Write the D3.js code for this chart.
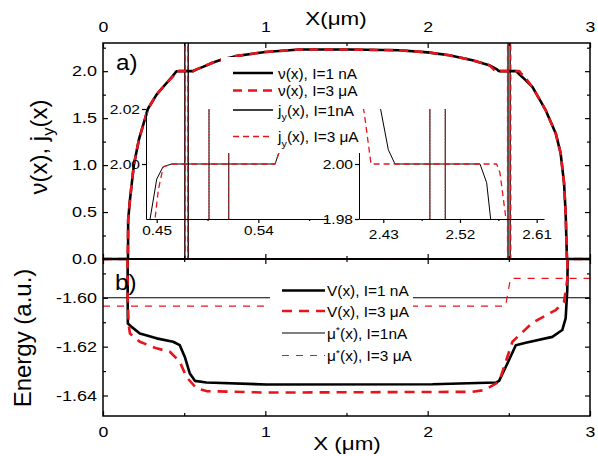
<!DOCTYPE html>
<html>
<head>
<meta charset="utf-8">
<title>nu(x), j_y(x) and energy profiles</title>
<script src="https://cdn.jsdelivr.net/npm/d3@7/dist/d3.min.js"></script>
<style>
    body { margin: 0; background: #fff; }
    svg text { font-family: "Liberation Sans", Arial, sans-serif; fill: #000; }
    .we, .wm, .ws { transform-box: fill-box; }
    .we { transform-origin: 100% 50%; transform: scaleX(1.2); }
    .wm { transform-origin: 50% 50%; transform: scaleX(1.18); }
    .ws { transform-origin: 0% 50%; transform: scaleX(1.1); }
</style>
</head>
<body>
<svg id="chart" width="598" height="456"></svg>
<script>
var xTicks = [0, 1, 2, 3];
var xMinor = [0.5, 1.5, 2.5];
var nuTicks = [0, 0.5, 1, 1.5, 2];
var nuMinor = [0.25, 0.75, 1.25, 1.75, 2.25];
var energyTicks = [-1.64, -1.62, -1.60];
var energyMinor = [-1.63, -1.61, -1.59];
var zoomYTicksLeft = [2.00, 2.02];
var zoomYTicksRight = [1.98, 2.00];
var zoomXTicksLeft = [0.45, 0.54];
var zoomXMinorLeft = [0.495, 0.585];
var zoomXTicksRight = [2.43, 2.52, 2.61];
var zoomXMinorRight = [2.475, 2.565];

// nu(x), I = 1 nA
var nu1X = [0, 0.154, 0.155, 0.166, 0.19, 0.221, 0.26, 0.277, 0.33, 0.355, 0.40, 0.43, 0.4441, 0.45, 0.4556,
    0.4633, 0.5548, 0.559, 0.58, 0.616, 0.678, 0.719, 0.817, 1.0, 1.21, 1.518, 1.825, 2.0, 2.133, 2.276,
    2.379, 2.427, 2.4359, 2.4437, 2.5435, 2.5513, 2.556, 2.60, 2.645, 2.727, 2.789, 2.819, 2.84, 2.85, 2.858, 3];
var nu1Y = [0, 0, 0.415, 0.63, 1.0, 1.27, 1.5, 1.6, 1.75, 1.8, 1.89, 1.95, 1.98, 1.9945, 1.999,
    2.0, 2.0, 2.005, 2.022, 2.046, 2.093, 2.117, 2.16, 2.205, 2.23, 2.23, 2.223, 2.2, 2.17, 2.117,
    2.064, 2.0197, 2.0052, 2.0, 2.0, 1.9932, 1.98, 1.91, 1.833, 1.585, 1.337, 1.128, 0.81, 0.49, 0, 0];

// nu(x), I = 3 uA
var nu3X = [0, 0.152, 0.155, 0.166, 0.19, 0.221, 0.26, 0.277, 0.33, 0.355, 0.40, 0.435, 0.4485, 0.4514, 0.4558,
    0.4633, 0.5548, 0.559, 0.58, 0.616, 0.678, 0.719, 0.817, 1.0, 1.21, 1.518, 1.825, 2.0, 2.133, 2.276,
    2.379, 2.4077, 2.4156, 2.563, 2.5669, 2.574, 2.61, 2.645, 2.727, 2.789, 2.819, 2.84, 2.85, 2.858, 3];
var nu3Y = [0, 0, 0.415, 0.63, 1.0, 1.27, 1.5, 1.6, 1.75, 1.8, 1.89, 1.95, 1.98, 1.9906, 1.999,
    2.0, 2.0, 2.005, 2.022, 2.046, 2.093, 2.117, 2.16, 2.205, 2.23, 2.23, 2.223, 2.2, 2.17, 2.117,
    2.064, 2.0185, 2.0, 2.0, 1.9968, 1.98, 1.91, 1.833, 1.585, 1.337, 1.128, 0.81, 0.49, 0, 0];

// j_y(x): zero except two narrow spikes that run off the scale
var jy1X = [0, 0.504, 0.504, 0.525, 0.525, 2.495, 2.495, 2.508, 2.508, 3];
var jy1Y = [0, 0, 2.6, 2.6, 0, 0, 2.6, 2.6, 0, 0];
var jy3X = [0, 0.507, 0.507, 0.522, 0.522, 2.492, 2.492, 2.512, 2.512, 3];
var jy3Y = [0, 0, 2.6, 2.6, 0, 0, 2.6, 2.6, 0, 0];

// spikes as they appear in the two zoomed insets
var jyZoomLeftX = [0.44, 0.4963, 0.4963, 0.5138, 0.5138, 0.61];
var jyZoomRightX = [2.40, 2.4847, 2.4847, 2.5027, 2.5027, 2.62];
var jyZoomY = [0, 0, 2.6, 2.6, 0, 0];

// V(x)
var v1X = [0.152, 0.152, 0.153, 0.176, 0.227, 0.33, 0.432, 0.473, 0.504, 0.535, 0.566, 0.637, 1.006, 2.03,
    2.42, 2.44, 2.491, 2.543, 2.604, 2.768, 2.829, 2.85, 2.86, 2.866];
var v1Y = [-1.57, -1.60, -1.6105, -1.6119, -1.6146, -1.6166, -1.618, -1.6194, -1.6242, -1.631, -1.634, -1.6347, -1.6355, -1.6354,
    -1.6347, -1.634, -1.6269, -1.6194, -1.6184, -1.616, -1.6132, -1.6084, -1.5968, -1.57];
var v3X = [0.150, 0.152, 0.158, 0.166, 0.227, 0.33, 0.412, 0.473, 0.514, 0.576, 0.637, 1.006, 2.276, 2.348,
    2.44, 2.522, 2.645, 2.789, 2.84, 2.86, 2.864];
var v3Y = [-1.57, -1.60, -1.611, -1.6146, -1.618, -1.6207, -1.6221, -1.6262, -1.6324, -1.6371, -1.6382, -1.6388, -1.6385, -1.6378,
    -1.6344, -1.618, -1.6102, -1.605, -1.6016, -1.5927, -1.57];

// mu*(x)
var mu1X = [0, 3];
var mu1Y = [-1.60, -1.60];
var mu3X = [0, 2.48, 2.51, 3];
var mu3Y = [-1.6034, -1.6034, -1.592, -1.592];

var legendTopLabels = ['ν(x), I=1 nA', 'ν(x), I=3 μA', 'j_y(x), I=1nA', 'j_y(x), I=3 μA'];
var legendBottomLabels = ['V(x), I=1 nA', 'V(x), I=3 μA', 'μ^*(x), I=1nA', 'μ^*(x), I=3 μA'];

document.addEventListener('DOMContentLoaded', main);

function main() {
    var svg = d3.select('#chart');

    var x = d3.scaleLinear().domain([0, 3]).range([103, 590]);
    var yNu = d3.scaleLinear().domain([0, 2.3]).range([259, 43]);
    var yEn = d3.scaleLinear().domain([-1.6484, -1.5841]).range([416, 259]);
    var xZl = d3.scaleLinear().domain([0.4405, 0.6017]).range([146, 328]);
    var xZr = d3.scaleLinear().domain([2.4015, 2.6186]).range([359, 544]);
    var yZ = d3.scaleLinear().domain([1.98, 2.02]).range([219, 109]);

    var defs = svg.append('defs');
    clipRect(defs, 'clipNu', 103, 43, 487, 220);
    clipRect(defs, 'clipEn', 103, 259, 487, 157);
    clipRect(defs, 'clipZl', 146, 109, 182, 110);
    clipRect(defs, 'clipZr', 359, 109, 185, 110);

    var red = '#e8141c';
    var st = {
        nu1: { color: '#000', width: 2.6 },
        nu3: { color: red, width: 2.6, dash: '9,6' },
        jy1: { color: '#000', width: 1.3 },
        jy3: { color: red, width: 1.3, dash: '6,4' },
        v1: { color: '#000', width: 2.6 },
        v3: { color: red, width: 2.6, dash: '10,7' },
        mu1: { color: '#000', width: 1.1 },
        mu3: { color: red, width: 1.2, dash: '7,7' },
        zoom1: { color: '#000', width: 1 },
        zoom3: { color: red, width: 1.3, dash: '6,4' },
        spike3: { color: red, width: 1, dash: '1.5,1.5' }
    };

    var upper = svg.append('g').attr('clip-path', 'url(#clipNu)');
    series(upper, jy1X, jy1Y, x, yNu, st.jy1);
    series(upper, jy3X, jy3Y, x, yNu, st.jy3);
    series(upper, nu1X, nu1Y, x, yNu, st.nu1);
    series(upper, nu3X, nu3Y, x, yNu, st.nu3);

    var lower = svg.append('g').attr('clip-path', 'url(#clipEn)');
    series(lower, mu1X, mu1Y, x, yEn, st.mu1);
    series(lower, mu3X, mu3Y, x, yEn, st.mu3);
    series(lower, v1X, v1Y, x, yEn, st.v1);
    series(lower, v3X, v3Y, x, yEn, st.v3);

    // insets: same nu data, zoomed around the 2.0 plateau
    var zl = svg.append('g').attr('clip-path', 'url(#clipZl)');
    series(zl, jyZoomLeftX, jyZoomY, xZl, yZ, st.zoom1);
    series(zl, jyZoomLeftX, jyZoomY, xZl, yZ, st.spike3);
    series(zl, nu1X, nu1Y, xZl, yZ, st.zoom1);
    series(zl, nu3X, nu3Y, xZl, yZ, st.zoom3);

    var zr = svg.append('g').attr('clip-path', 'url(#clipZr)');
    series(zr, jyZoomRightX, jyZoomY, xZr, yZ, st.zoom1);
    series(zr, jyZoomRightX, jyZoomY, xZr, yZ, st.spike3);
    series(zr, nu1X, nu1Y, xZr, yZ, st.zoom1);
    series(zr, nu3X, nu3Y, xZr, yZ, st.zoom3);

    insetAxes(svg, xZl, yZ, zoomXTicksLeft, zoomXMinorLeft, zoomYTicksLeft, 146, 219, 3);
    insetAxes(svg, xZr, yZ, zoomXTicksRight, zoomXMinorRight, zoomYTicksRight, 359, 219, 7);

    legend(svg, [221, 57, 140, 96], legendTopLabels, [st.nu1, st.nu3, st.jy1, st.jy3],
        233, 273, 278, [79, 96.5, 116, 142.5]);
    legend(svg, [270, 279, 143, 88], legendBottomLabels, [st.v1, st.v3, st.mu1, st.mu3],
        282, 325, 327, [296.5, 317, 339, 361.5]);

    panelAxes(svg, x, yNu, nuTicks, nuMinor, function (d) { return d.toFixed(1); }, true, false);
    panelAxes(svg, x, yEn, energyTicks, energyMinor, function (d) { return d.toFixed(2); }, false, true);

    svg.append('text').attr('class', 'wm').attr('x', 336).attr('y', 25)
        .attr('text-anchor', 'middle').attr('font-size', 19).text('X(μm)');
    svg.append('text').attr('class', 'wm').attr('x', 347).attr('y', 450)
        .attr('text-anchor', 'middle').attr('font-size', 19).text('X (μm)');

    var t1 = svg.append('text').attr('transform', 'translate(40,147) rotate(-90)')
        .attr('y', 7).attr('text-anchor', 'middle').attr('font-size', 24);
    richText(t1, 'ν(x), j_y(x)', 24);
    svg.append('text').attr('transform', 'translate(24,338) rotate(-90)')
        .attr('y', 7).attr('text-anchor', 'middle').attr('font-size', 24).text('Energy (a.u.)');

    svg.append('text').attr('class', 'ws').attr('x', 116).attr('y', 70).attr('font-size', 22).text('a)');
    svg.append('text').attr('class', 'ws').attr('x', 115).attr('y', 290).attr('font-size', 22).text('b)');
}

function clipRect(defs, id, x, y, w, h) {
    defs.append('clipPath').attr('id', id)
        .append('rect').attr('x', x).attr('y', y).attr('width', w).attr('height', h);
}

function series(g, xs, ys, sx, sy, s) {
    var line = d3.line()
        .x(function (d) { return sx(d[0]); })
        .y(function (d) { return sy(d[1]); });
    g.append('path')
        .datum(xs.map(function (v, i) { return [v, ys[i]]; }))
        .attr('d', line)
        .attr('fill', 'none')
        .attr('stroke', s.color)
        .attr('stroke-width', s.width)
        .attr('stroke-dasharray', s.dash || null)
        .attr('stroke-linejoin', 'round');
}

function blank() {
    return '';
}

function addAxis(svg, axis, tx, ty, cls, size, keepDomain) {
    var g = svg.append('g')
        .attr('transform', 'translate(' + tx + ',' + ty + ')')
        .call(axis);
    if (!keepDomain) g.select('.domain').remove();
    g.select('.domain').attr('stroke-width', 1);
    g.attr('font-family', null).attr('font-size', size || 10);
    g.selectAll('line').attr('stroke-width', 1.2);
    if (cls) g.selectAll('text').attr('class', cls);
    return g;
}

function panelAxes(svg, x, y, yTicks, yMinor, yFormat, showTop, showBottom) {
    var yb = y.range()[0], yt = y.range()[1];
    var x0 = x.range()[0], x1 = x.range()[1];
    var fmt = d3.format('d');

    addAxis(svg, d3.axisLeft(y).tickValues(yTicks).tickSize(-5).tickPadding(6).tickFormat(yFormat), x0, 0, 'we', 15);
    addAxis(svg, d3.axisLeft(y).tickValues(yMinor).tickSize(-3).tickFormat(blank), x0, 0);
    addAxis(svg, d3.axisRight(y).tickValues(yTicks).tickSize(-5).tickFormat(blank), x1, 0);
    addAxis(svg, d3.axisRight(y).tickValues(yMinor).tickSize(-3).tickFormat(blank), x1, 0);
    addAxis(svg, d3.axisTop(x).tickValues(xTicks).tickSize(-5).tickPadding(11)
        .tickFormat(showTop ? fmt : blank), 0, yt, 'wm', 15);
    addAxis(svg, d3.axisTop(x).tickValues(xMinor).tickSize(-3).tickFormat(blank), 0, yt);
    addAxis(svg, d3.axisBottom(x).tickValues(xTicks).tickSize(-5).tickPadding(10)
        .tickFormat(showBottom ? fmt : blank), 0, yb, 'wm', 15);
    addAxis(svg, d3.axisBottom(x).tickValues(xMinor).tickSize(-3).tickFormat(blank), 0, yb);

    svg.append('rect')
        .attr('x', x0).attr('y', yt)
        .attr('width', x1 - x0).attr('height', yb - yt)
        .attr('fill', 'none').attr('stroke', '#000').attr('stroke-width', 1.5);
}

function insetAxes(svg, xs, ys, xT, xM, yT, left, base, pad) {
    var f2 = function (d) { return d.toFixed(2); };
    addAxis(svg, d3.axisLeft(ys).tickValues(yT).tickSize(4).tickSizeOuter(0).tickPadding(2).tickFormat(f2),
        left, 0, 'we', 13, true);
    addAxis(svg, d3.axisBottom(xs).tickValues(xT).tickSize(4).tickSizeOuter(0).tickPadding(pad).tickFormat(f2),
        0, base, 'wm', 13, true);
    addAxis(svg, d3.axisBottom(xs).tickValues(xM).tickSize(2).tickFormat(blank), 0, base);
}

function richText(sel, str, size) {
    var parts = str.split(/([_^].)/);
    var shift = 0;
    parts.forEach(function (p) {
        if (!p) return;
        if (p[0] === '_' || p[0] === '^') {
            var d = p[0] === '_' ? size * 0.3 : -size * 0.4;
            sel.append('tspan').attr('dy', d - shift).attr('font-size', size * 0.7).text(p[1]);
            shift = d;
        } else {
            sel.append('tspan').attr('dy', -shift).text(p);
            shift = 0;
        }
    });
}

function legend(svg, box, labels, styles, lx0, lx1, tx, baselines) {
    svg.append('rect')
        .attr('x', box[0]).attr('y', box[1])
        .attr('width', box[2]).attr('height', box[3])
        .attr('fill', '#fff');
    labels.forEach(function (label, i) {
        var s = styles[i];
        svg.append('line')
            .attr('x1', lx0).attr('x2', lx1)
            .attr('y1', baselines[i] - 6).attr('y2', baselines[i] - 6)
            .attr('stroke', s.color)
            .attr('stroke-width', s.width)
            .attr('stroke-dasharray', s.dash || null);
        var t = svg.append('text').attr('class', 'ws')
            .attr('x', tx).attr('y', baselines[i]).attr('font-size', 14);
        richText(t, label, 14);
    });
}
</script>
</body>
</html>
